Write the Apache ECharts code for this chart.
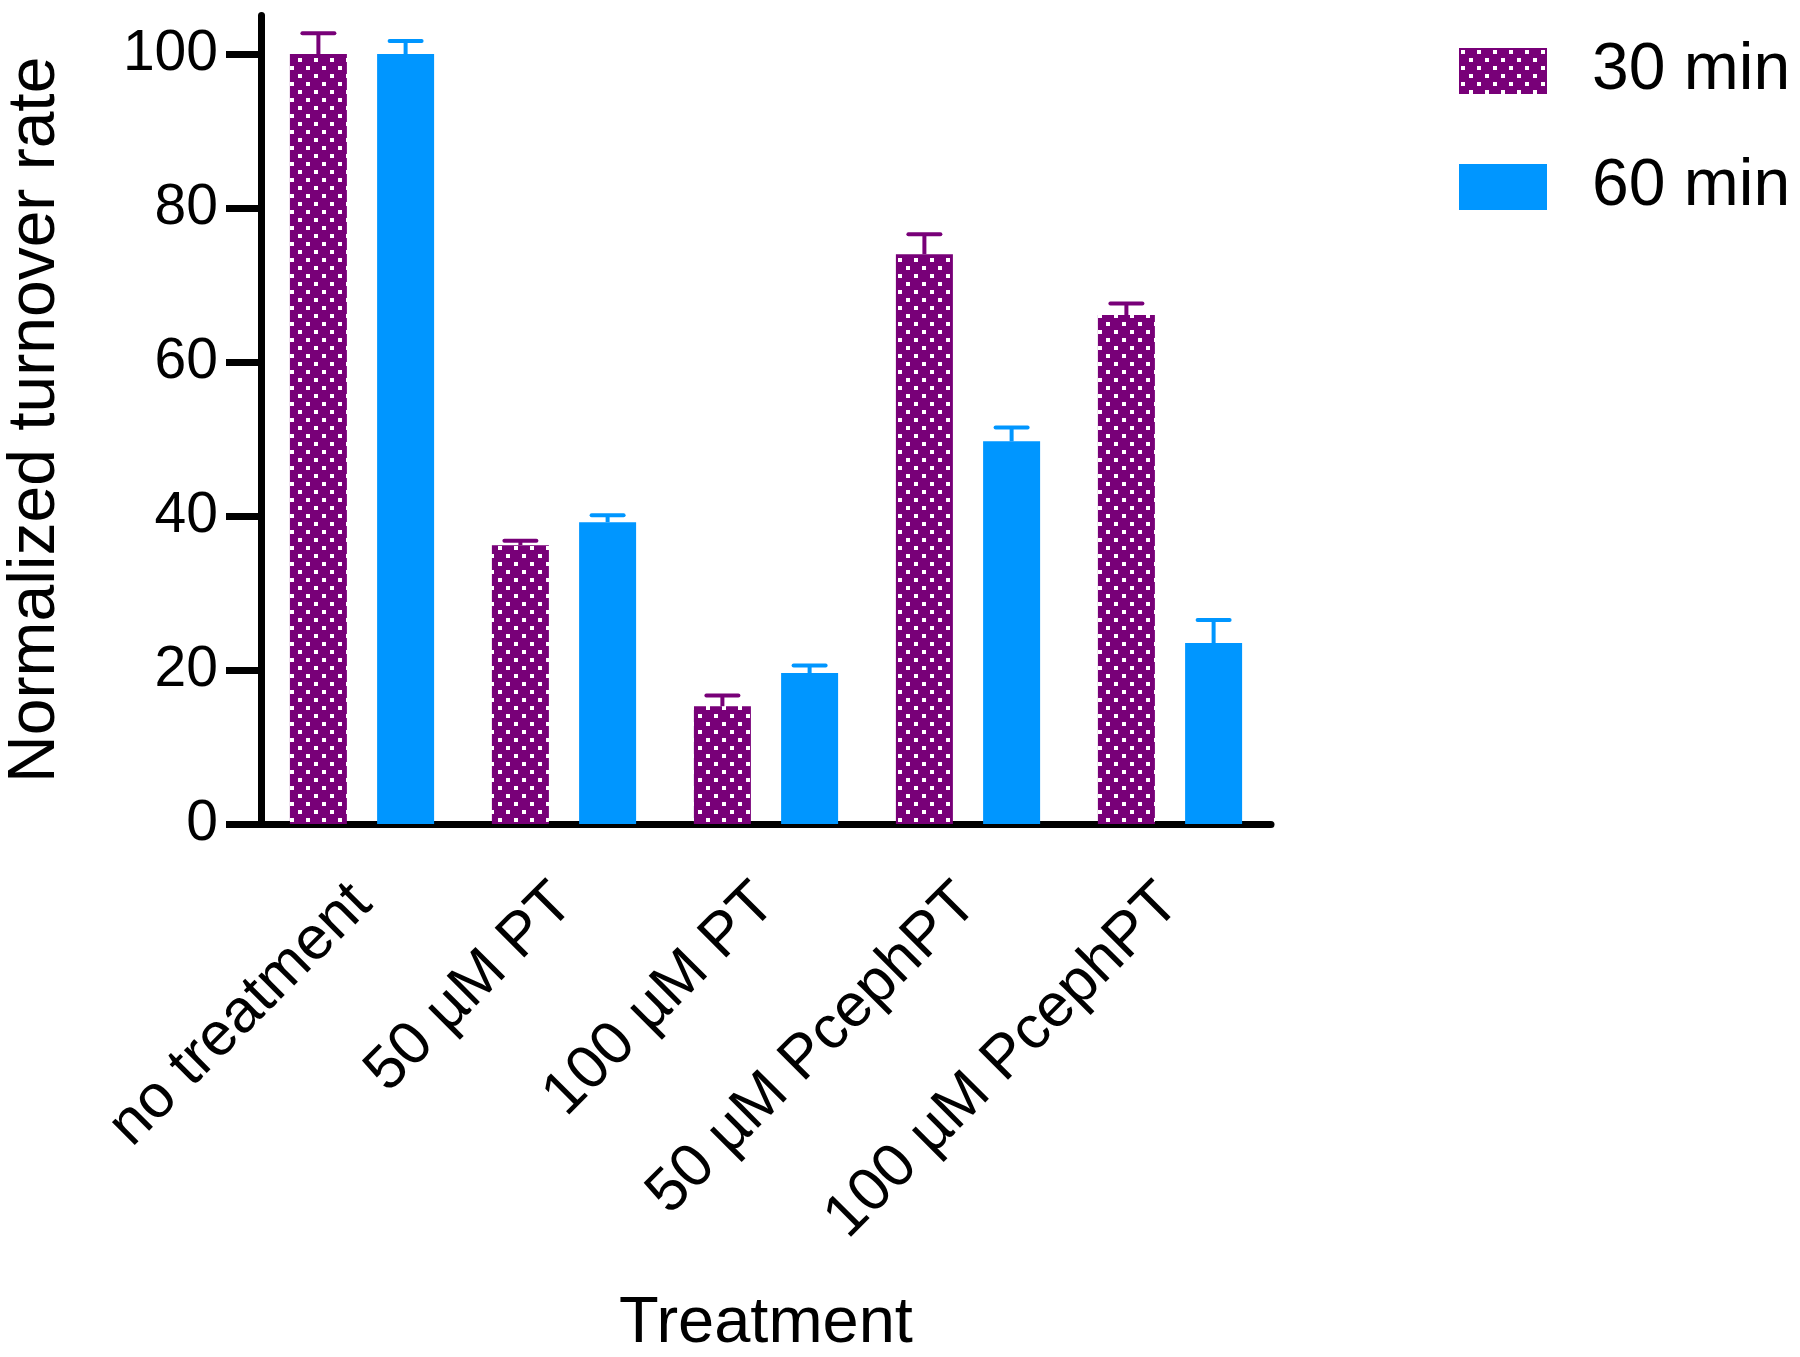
<!DOCTYPE html>
<html>
<head>
<meta charset="utf-8">
<script src="https://cdn.jsdelivr.net/npm/echarts@6/dist/echarts.min.js"></script>
<style>
html,body{margin:0;padding:0;background:#fff;}
#chart{width:1800px;height:1357px;}
</style>
</head>
<body>
<div id="chart"></div>
<script>
// ---- data ----
const categories = ['no treatment', '50 µM PT', '100 µM PT', '50 µM PcephPT', '100 µM PcephPT'];
const seriesNames = ['30 min', '60 min'];
const values30 = [100, 36.2, 15.3, 74.0, 66.1];
const errors30 = [2.7, 0.6, 1.4, 2.6, 1.5];
const values60 = [100, 39.2, 19.6, 49.7, 23.5];
const errors60 = [1.7, 0.9, 1.0, 1.8, 3.0];
const yTicks = [0, 20, 40, 60, 80, 100];

// ---- style ----
const PURPLE = '#780078';
const BLUE = '#0096ff';
const FONT = 'Liberation Sans';
const BAR_W = 57;
const BAR_GAP = 0.53;

function dotPattern() {
  const c = document.createElement('canvas');
  c.width = 16; c.height = 16;
  const g = c.getContext('2d');
  g.fillStyle = PURPLE;
  g.fillRect(0, 0, 16, 16);
  g.fillStyle = '#ffffff';
  g.fillRect(2, 2, 4, 4);
  g.fillRect(10, 10, 4, 4);
  return c;
}
const purpleFill = { image: dotPattern(), repeat: 'repeat' };

function errorSeries(vals, errs, sign, color) {
  return {
    type: 'custom',
    z: 5,
    silent: true,
    data: vals.map((v, i) => [i, v, errs[i]]),
    renderItem: function (params, api) {
      const i = api.value(0), v = api.value(1), e = api.value(2);
      const off = sign * BAR_W * (1 + BAR_GAP) / 2;
      const p0 = api.coord([i, v]);
      const p1 = api.coord([i, v + e]);
      const x = p0[0] + off;
      const cap = 16;
      return {
        type: 'group',
        children: [
          { type: 'line', shape: { x1: x, y1: p0[1], x2: x, y2: p1[1] },
            style: { stroke: color, lineWidth: 4 } },
          { type: 'line', shape: { x1: x - cap, y1: p1[1], x2: x + cap, y2: p1[1] },
            style: { stroke: color, lineWidth: 4, lineCap: 'round' } }
        ]
      };
    }
  };
}

const chart = echarts.init(document.getElementById('chart'), null, { renderer: 'canvas' });
chart.setOption({
  animation: false,
  backgroundColor: '#ffffff',
  textStyle: { fontFamily: FONT, color: '#000' },
  grid: { left: 261, right: 529, top: 15.5, bottom: 533, containLabel: false, outerBoundsMode: 'none' },
  legend: {
    orient: 'vertical',
    left: 1459,
    top: 38,
    padding: 0,
    icon: 'rect',
    itemWidth: 88,
    itemHeight: 46,
    itemGap: 50,
    data: seriesNames,
    textStyle: { fontFamily: FONT, fontSize: 66, lineHeight: 64, color: '#000', padding: [0, 0, 0, 40] }
  },
  xAxis: {
    type: 'category',
    data: categories,
    boundaryGap: true,
    axisLine: { lineStyle: { color: '#000', width: 7 } },
    axisTick: { alignWithLabel: true, length: 35, lineStyle: { color: '#000', width: 7 } },
    axisLabel: { rotate: 45, margin: 70, fontSize: 61, color: '#000', fontFamily: FONT, interval: 0 },
    name: 'Treatment',
    nameLocation: 'middle',
    nameGap: 468,
    nameTextStyle: { fontSize: 65, color: '#000', fontFamily: FONT }
  },
  yAxis: {
    type: 'value',
    min: 0,
    max: 105,
    interval: 20,
    splitLine: { show: false },
    axisLine: { show: true, lineStyle: { color: '#000', width: 7 } },
    axisTick: { show: true, length: 35, customValues: yTicks, lineStyle: { color: '#000', width: 7 } },
    axisLabel: { margin: 43, fontSize: 57, color: '#000', fontFamily: FONT, customValues: yTicks },
    name: 'Normalized turnover rate',
    nameLocation: 'middle',
    nameGap: 192,
    nameTextStyle: { fontSize: 66, color: '#000', fontFamily: FONT }
  },
  series: [
    { name: seriesNames[0], type: 'bar', data: values30, barWidth: BAR_W, barGap: (BAR_GAP * 100) + '%',
      itemStyle: { color: purpleFill } },
    { name: seriesNames[1], type: 'bar', data: values60, barWidth: BAR_W,
      itemStyle: { color: BLUE } },
    errorSeries(values30, errors30, -1, PURPLE),
    errorSeries(values60, errors60, 1, BLUE)
  ]
});
</script>
</body>
</html>
